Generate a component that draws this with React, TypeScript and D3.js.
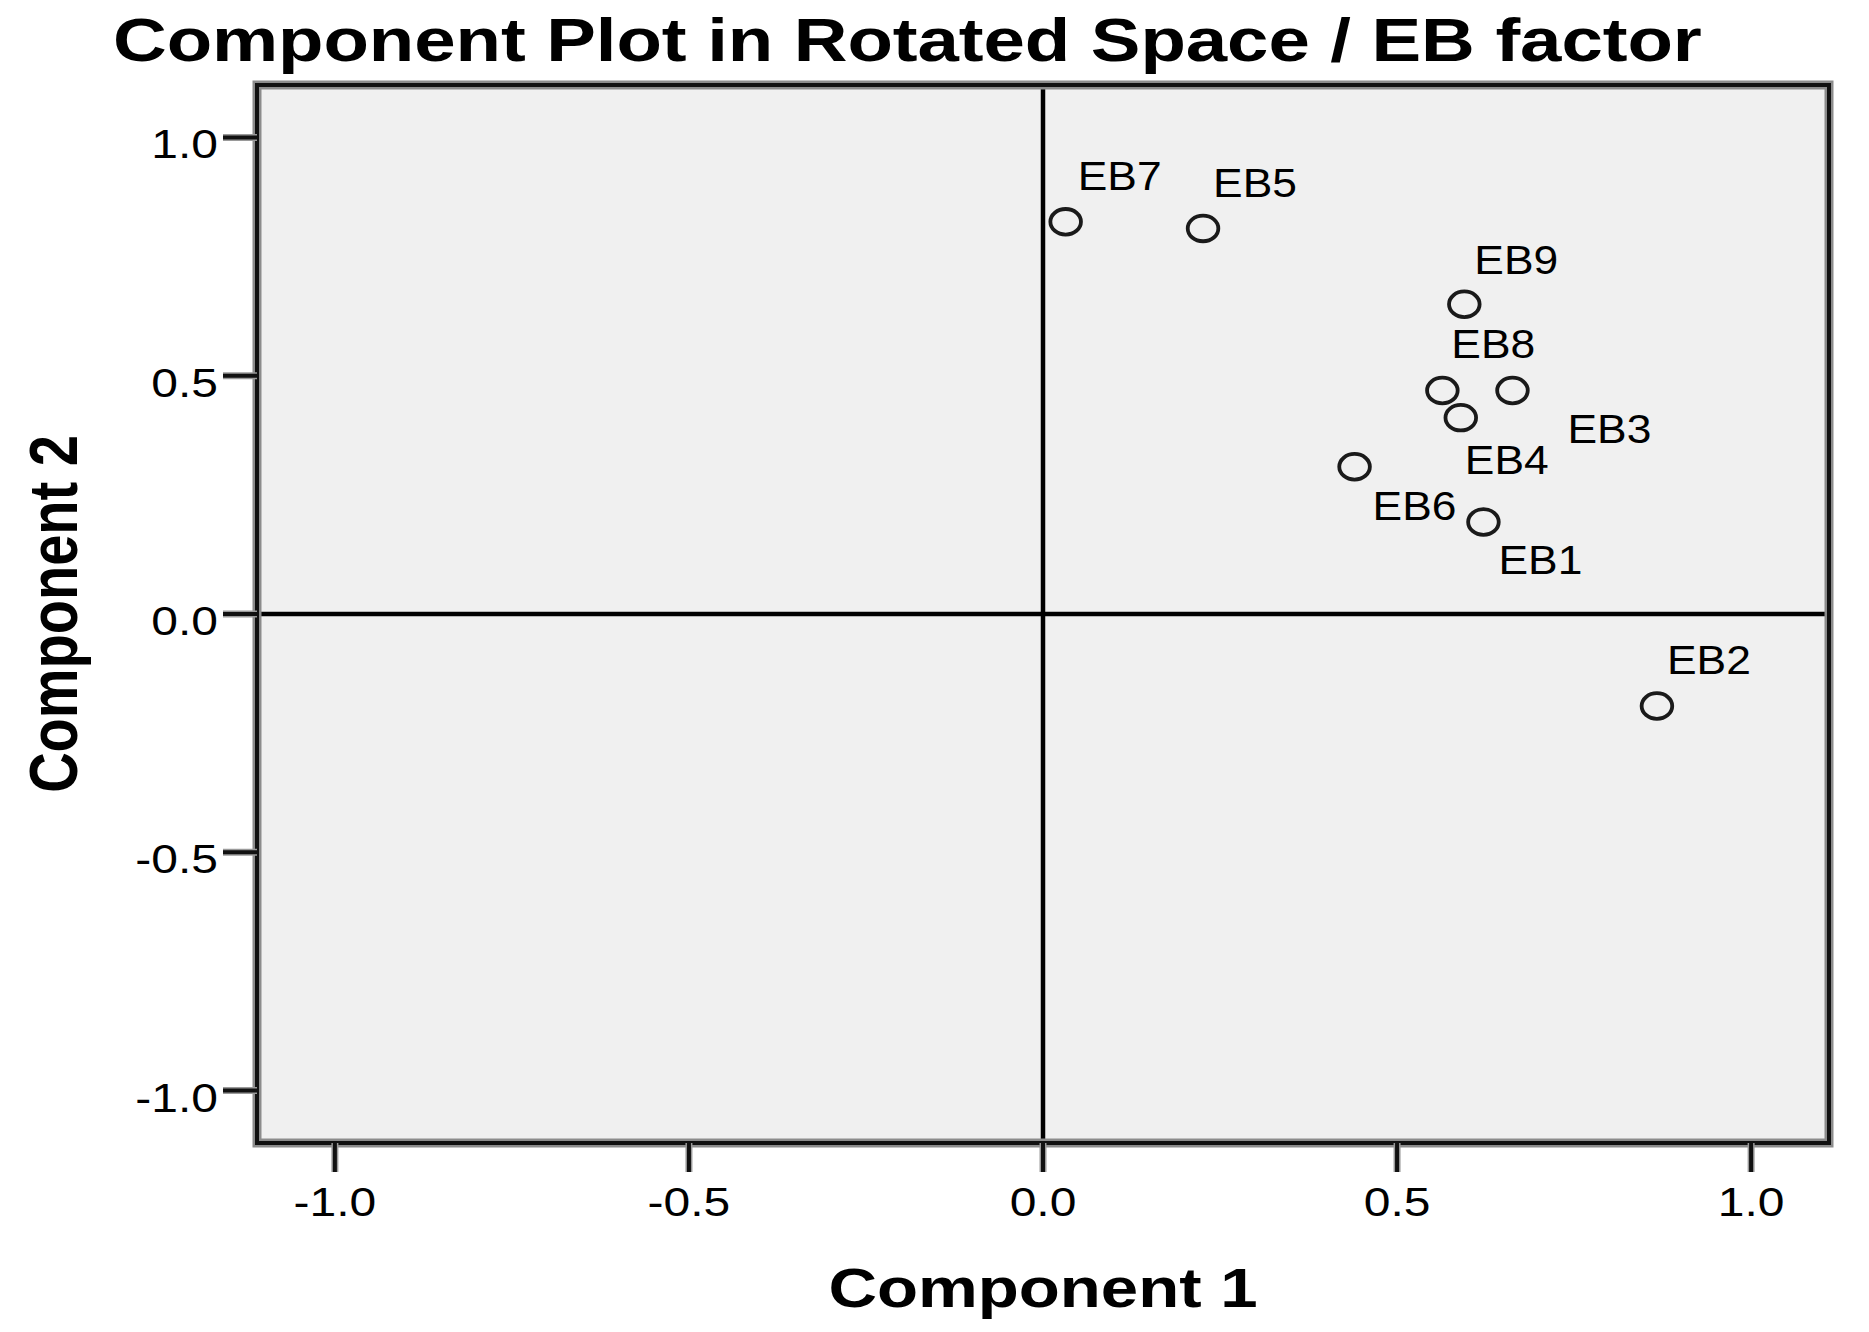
import React from "react";
import * as d3 from "d3";

// ---- data ----
const itemLabels = ["EB1", "EB2", "EB3", "EB4", "EB5", "EB6", "EB7", "EB8", "EB9"];
const component1 = [0.622, 0.867, 0.663, 0.59, 0.226, 0.44, 0.032, 0.564, 0.595];
const component2 = [0.193, -0.193, 0.469, 0.412, 0.809, 0.309, 0.823, 0.469, 0.65];
const tickValues = [-1.0, -0.5, 0.0, 0.5, 1.0];
const tickLabels = ["-1.0", "-0.5", "0.0", "0.5", "1.0"];
const titleText = "Component Plot in Rotated Space / EB factor";
const xTitle = "Component 1";
const yTitle = "Component 2";

// ---- layout (label placement, pixels relative to marker) ----
const labelOffset: Record<string, [number, number]> = {
  EB1: [15, 52],
  EB2: [10, -32],
  EB3: [55, 53],
  EB4: [4, 56],
  EB5: [10, -31],
  EB6: [18, 53],
  EB7: [12, -32],
  EB8: [9, -32],
  EB9: [10, -30],
};

const W = 1869;
const H = 1332;
const FONT = "'Liberation Sans', Arial, Helvetica, sans-serif";

export default function App() {
  const left = 257, right = 1829, top = 85, bottom = 1143;
  const x = d3.scaleLinear().domain([-1.11, 1.11]).range([left, right]);
  const y = d3.scaleLinear().domain([-1.11, 1.11]).range([bottom, top]);
  const pts = itemLabels.map((l, i) => ({ l, cx: x(component1[i]), cy: y(component2[i]) }));

  return (
    <svg
      width={W}
      height={H}
      viewBox={`0 0 ${W} ${H}`}
      style={{ position: "absolute", left: 0, top: 0, background: "#ffffff" }}
      fontFamily={FONT}
    >
      <rect x={0} y={0} width={W} height={H} fill="#ffffff" />
      {/* title */}
      <text
        transform={`translate(113,61) scale(1.2,1)`}
        fontSize={62}
        fontWeight="bold"
        textLength={1324}
        lengthAdjust="spacing"
        fill="#000"
      >
        {titleText}
      </text>

      {/* plot area */}
      <rect x={left} y={top} width={right - left} height={bottom - top} fill="#f0f0f0" />

      {/* zero reference lines */}
      <line x1={x(0)} x2={x(0)} y1={top} y2={bottom} stroke="#000" strokeWidth={4.5} />
      <line x1={left} x2={right} y1={y(0)} y2={y(0)} stroke="#000" strokeWidth={4.5} />

      {/* frame with shadow */}
      <rect x={left} y={top} width={right - left} height={bottom - top} fill="none" stroke="#8c8c8c" strokeWidth={9} />
      <rect x={left} y={top} width={right - left} height={bottom - top} fill="none" stroke="#111" strokeWidth={4} />

      {/* y ticks */}
      {tickValues.map((v, i) => (
        <g key={"yt" + i}>
          <line x1={left - 34} x2={left} y1={y(v)} y2={y(v)} stroke="#9a9a9a" strokeWidth={7} />
          <line x1={left - 34} x2={left} y1={y(v)} y2={y(v)} stroke="#111" strokeWidth={4} />
          <text
            transform={`translate(${left - 39},${y(v) + 21}) scale(1.17,1)`}
            textAnchor="end"
            fontSize={41}
            fill="#000"
          >
            {tickLabels[i]}
          </text>
        </g>
      ))}

      {/* x ticks */}
      {tickValues.map((v, i) => (
        <g key={"xt" + i}>
          <line x1={x(v)} x2={x(v)} y1={bottom} y2={bottom + 29} stroke="#9a9a9a" strokeWidth={7} />
          <line x1={x(v)} x2={x(v)} y1={bottom} y2={bottom + 29} stroke="#111" strokeWidth={4} />
          <text
            transform={`translate(${x(v)},${bottom + 73}) scale(1.17,1)`}
            textAnchor="middle"
            fontSize={41}
            fill="#000"
          >
            {tickLabels[i]}
          </text>
        </g>
      ))}

      {/* markers */}
      {pts.map((p) => (
        <g key={p.l}>
          <ellipse cx={p.cx} cy={p.cy} rx={15.3} ry={12.8} fill="none" stroke="#1a1a1a" strokeWidth={3.8} />
          <text
            transform={`translate(${p.cx + labelOffset[p.l][0]},${p.cy + labelOffset[p.l][1]}) scale(1.11,1)`}
            fontSize={40}
            fill="#000"
          >
            {p.l}
          </text>
        </g>
      ))}

      {/* axis titles */}
      <text
        transform={`translate(${x(0)},1307) scale(1.2,1)`}
        textAnchor="middle"
        fontSize={56}
        fontWeight="bold"
        fill="#000"
      >
        {xTitle}
      </text>
      <text
        transform={`translate(77,${y(0)}) scale(1.21,1) rotate(-90)`}
        textAnchor="middle"
        fontSize={56}
        fontWeight="bold"
        fill="#000"
      >
        {yTitle}
      </text>
    </svg>
  );
}
